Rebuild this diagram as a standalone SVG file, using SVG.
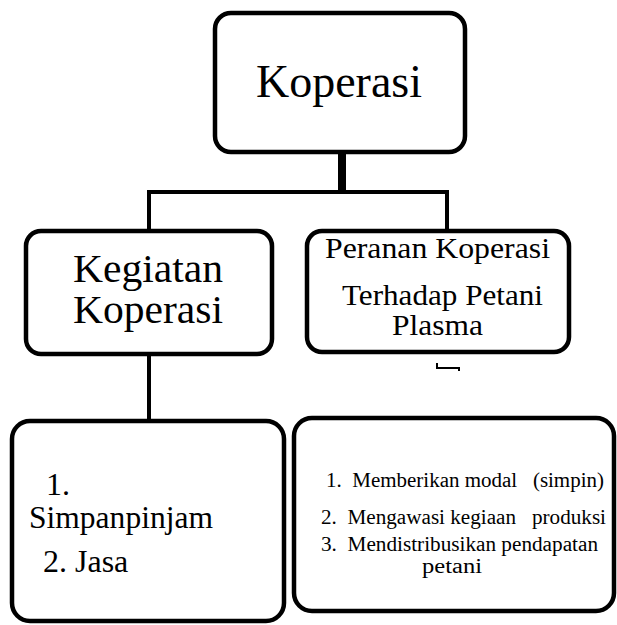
<svg xmlns="http://www.w3.org/2000/svg" width="617" height="625" viewBox="0 0 617 625">
<style>
.box{fill:#fff;stroke:#000;stroke-width:4.5}
text{font-family:'Liberation Serif',Tinos,'Times New Roman','DejaVu Serif',serif;fill:#000}
.c{fill:none;stroke:#000;stroke-width:4}
</style>
<rect width="617" height="625" fill="#fff"/>
<g id="connectors">
<line x1="342" y1="150" x2="342" y2="192" stroke="#000" stroke-width="8"/>
<polyline class="c" points="149,232 149,192 447,192 447,232"/>
<line class="c" x1="149" y1="354" x2="149" y2="421"/>
<path d="M437,363 V368 H459 V371" fill="none" stroke="#000" stroke-width="2"/>
</g>
<g id="koperasi">
<rect class="box" x="215" y="13" width="250" height="139" rx="16"/>
<text x="339" y="97" font-size="46" text-anchor="middle">Koperasi</text>
</g>
<g id="kegiatan">
<rect class="box" x="26" y="231" width="246" height="123" rx="15"/>
<text x="148" y="282" font-size="40" text-anchor="middle" textLength="150" lengthAdjust="spacingAndGlyphs">Kegiatan</text>
<text x="148" y="323" font-size="40" text-anchor="middle" textLength="150" lengthAdjust="spacingAndGlyphs">Koperasi</text>
</g>
<g id="peranan">
<rect class="box" x="307" y="231" width="262" height="121" rx="15"/>
<text x="325" y="258" font-size="30" textLength="225" lengthAdjust="spacingAndGlyphs">Peranan Koperasi</text>
<text x="342" y="305" font-size="30" textLength="201" lengthAdjust="spacingAndGlyphs">Terhadap Petani</text>
<text x="392" y="335" font-size="30" textLength="91" lengthAdjust="spacingAndGlyphs">Plasma</text>
</g>
<g id="kegiatan-list">
<rect class="box" x="12" y="421" width="272" height="200" rx="18"/>
<text x="46" y="495" font-size="32">1.</text>
<text x="29" y="528" font-size="32" textLength="184" lengthAdjust="spacingAndGlyphs">Simpanpinjam</text>
<text x="43" y="572" font-size="32">2. Jasa</text>
</g>
<g id="peranan-list">
<rect class="box" x="294" y="418" width="320" height="193" rx="18"/>
<text x="326" y="487" font-size="20" xml:space="preserve" textLength="278" lengthAdjust="spacingAndGlyphs">1.  Memberikan modal   (simpin)</text>
<text x="321" y="524" font-size="20" xml:space="preserve" textLength="285" lengthAdjust="spacingAndGlyphs">2.  Mengawasi kegiaan   produksi</text>
<text x="321" y="551" font-size="20" xml:space="preserve" textLength="277" lengthAdjust="spacingAndGlyphs">3.  Mendistribusikan pendapatan</text>
<text x="422" y="573" font-size="20" textLength="60" lengthAdjust="spacingAndGlyphs">petani</text>
</g>
</svg>
